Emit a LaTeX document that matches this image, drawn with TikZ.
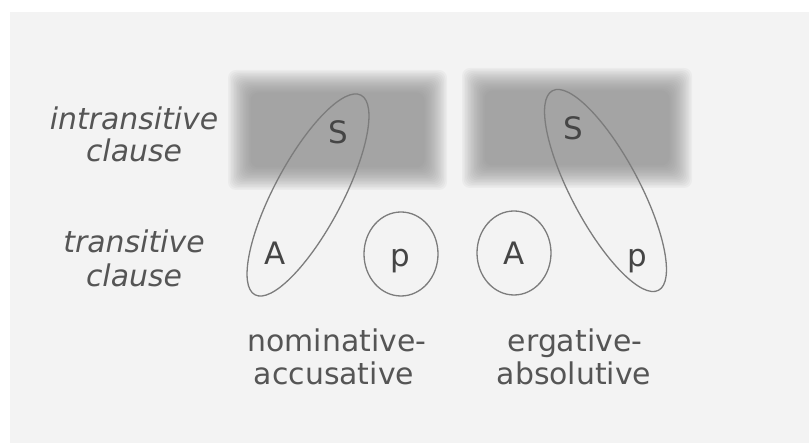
\documentclass[tikz,border=0pt]{standalone}
\usepackage{fontspec}
\setmainfont{DejaVu Sans}
\usetikzlibrary{shapes.geometric}
\definecolor{paper}{HTML}{F3F3F3}
\definecolor{panelgray}{HTML}{888888}
\definecolor{ink}{HTML}{555555}
\definecolor{letterink}{HTML}{454545}
\definecolor{rim}{HTML}{7C7C7C}
\tikzset{
  rowlabel/.style={font=\fontsize{30}{30}\selectfont\itshape, text=ink, anchor=base, inner sep=0pt},
  typelabel/.style={font=\fontsize{30}{30}\selectfont, text=ink, anchor=base, inner sep=0pt},
  role/.style={font=\fontsize{31}{31}\selectfont, text=letterink, anchor=base, inner sep=0pt},
  rolering/.style={draw=rim, line width=1.3bp, ellipse, minimum width=74bp, minimum height=84bp, inner sep=0pt},
  grouping/.style={draw=rim, line width=1.3bp},
}
% soft grey panel: stacked translucent rectangles, each inset a little more
\newcommand\softpanel[4]{%
  \foreach \k in {0,...,15}{%
    \fill[panelgray, fill opacity=0.07, rounded corners=8bp]
      ({#1+1.5*\k},{#2+1.5*\k}) rectangle ({#3-1.5*\k},{#4-1.5*\k});
  }%
}
\begin{document}
\begin{tikzpicture}[x=1bp,y=1bp]
  \useasboundingbox (0,0) rectangle (809,443);
  \fill[white] (0,0) rectangle (809,443);
  \fill[paper] (10,0) rectangle (809,431);

  % intransitive-clause panels
  \softpanel{228}{253}{447}{373}
  \softpanel{462}{255}{692}{375}

  % row labels
  \node[rowlabel] (intr1) at (134,313) {intransitive};
  \node[rowlabel] (intr2) at (134,281) {clause};
  \node[rowlabel] (tr1) at (134,190) {transitive};
  \node[rowlabel] (tr2) at (134,156) {clause};

  % nominative-accusative grouping
  \coordinate (nomc) at (308,248);
  \draw[grouping, rotate around={62:(nomc)}] (nomc) ellipse [x radius=113, y radius=34];
  \node[role] (S1) at (338,299) {S};
  \node[role] (A1) at (275,178) {A};
  \node[rolering] (P1ring) at (401,189) {};
  \node[role] (P1) at (400,176) {p};

  % ergative-absolutive grouping
  \coordinate (ergc) at (605.5,252.5);
  \draw[grouping, rotate around={-62:(ergc)}] (ergc) ellipse [x radius=113, y radius=34];
  \node[role] (S2) at (573,303) {S};
  \node[rolering] (A2ring) at (514,190) {};
  \node[role] (A2) at (514,178) {A};
  \node[role] (P2) at (637,176) {p};

  % alignment type names
  \node[typelabel] (nom1) at (337,91) {nominative-};
  \node[typelabel] (nom2) at (334,58) {accusative};
  \node[typelabel] (erg1) at (575,91) {ergative-};
  \node[typelabel] (erg2) at (574,58) {absolutive};
\end{tikzpicture}
\end{document}
